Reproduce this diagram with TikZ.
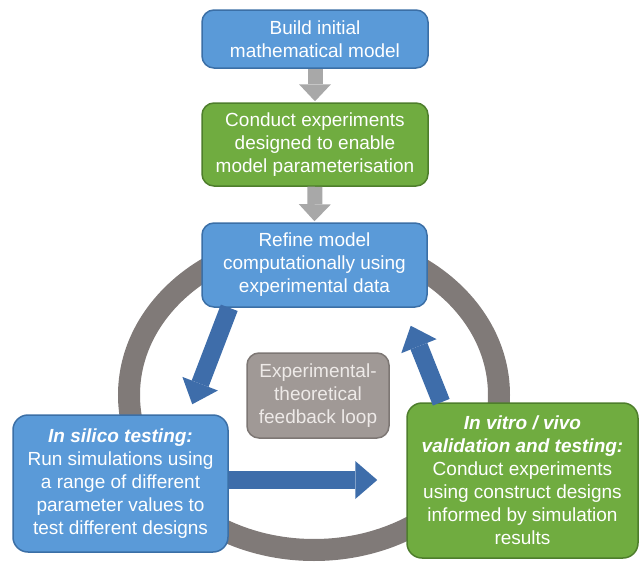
\documentclass[tikz,border=0pt]{standalone}
\usepackage{fontspec}
\setmainfont{Liberation Sans}
\usetikzlibrary{arrows.meta}
\definecolor{boxblue}{HTML}{5A9AD8}
\definecolor{boxblueline}{HTML}{3B6FA6}
\definecolor{boxgreen}{HTML}{70AC40}
\definecolor{boxgreenline}{HTML}{4E7E2C}
\definecolor{boxgray}{HTML}{A09996}
\definecolor{boxgrayline}{HTML}{7D7774}
\definecolor{ringgray}{HTML}{807A78}
\definecolor{arrblue}{HTML}{3E6DAA}
\definecolor{arrgray}{HTML}{A8A8A8}
\definecolor{graytext}{HTML}{EEEAE8}
\begin{document}
\begin{tikzpicture}[x=1pt,y=-1pt,
  box/.style={rounded corners=12pt, line width=1.5pt, text=white, align=center,
    font=\fontsize{19}{23}\selectfont, inner sep=0pt},
  bluebox/.style={box, fill=boxblue, draw=boxblueline},
  greenbox/.style={box, fill=boxgreen, draw=boxgreenline},
  graybox/.style={box, fill=boxgray, draw=boxgrayline, text=graytext},
  bluearr/.style={draw=arrblue, line width=18pt,
    -{Triangle[width=38pt,length=22pt,line width=0pt]}},
  grayarr/.style={draw=arrgray, line width=15pt,
    -{Triangle[width=32pt,length=17pt,line width=0pt]}}]
\useasboundingbox (0,0) rectangle (641,562);
% feedback ring
\draw[ringgray, line width=22pt] (314,395) ellipse [x radius=185pt, y radius=155pt];
% boxes
\node[bluebox, minimum width=226pt, minimum height=58pt] (build) at (315,39)
  {Build initial\\mathematical model};
\node[greenbox, minimum width=226pt, minimum height=83pt] (conduct) at (315,144.5)
  {Conduct experiments\\designed to enable\\model parameterisation};
\node[bluebox, minimum width=225pt, minimum height=84pt] (refine) at (314.5,265)
  {Refine model\\computationally using\\experimental data};
\node[graybox, minimum width=142pt, minimum height=85pt] (loop) at (318,395.5)
  {Experimental-\\theoretical\\feedback loop};
\node[bluebox, rounded corners=15pt, minimum width=215pt, minimum height=137pt] (insilico) at (120.5,483.5)
  {\textbf{\textit{In silico testing:}}\\Run simulations using\\a range of different\\parameter values to\\test different designs};
\node[greenbox, rounded corners=15pt, minimum width=231pt, minimum height=155pt] (invitro) at (522.5,480.5)
  {\textbf{\textit{In vitro / vivo}}\\\textbf{\textit{validation and testing:}}\\Conduct experiments\\using construct designs\\informed by simulation\\results};
% gray arrows
\draw[grayarr] (build.south) -- ([yshift=1]conduct.north);
\draw[grayarr] (conduct.south) -- ([yshift=1]refine.north);
% blue loop arrows
\coordinate (t1) at ([xshift=180,yshift=10]insilico.north west);
\draw[bluearr] ([xshift=28]refine.south west) -- (t1);
\draw[bluearr] (insilico.east |- 0,480) -- ([xshift=-29]invitro.west |- 0,480);
\coordinate (t3) at ([xshift=-17,yshift=-18]refine.south east);
\draw[bluearr] ([xshift=35]invitro.north west) -- (t3);
\end{tikzpicture}
\end{document}
